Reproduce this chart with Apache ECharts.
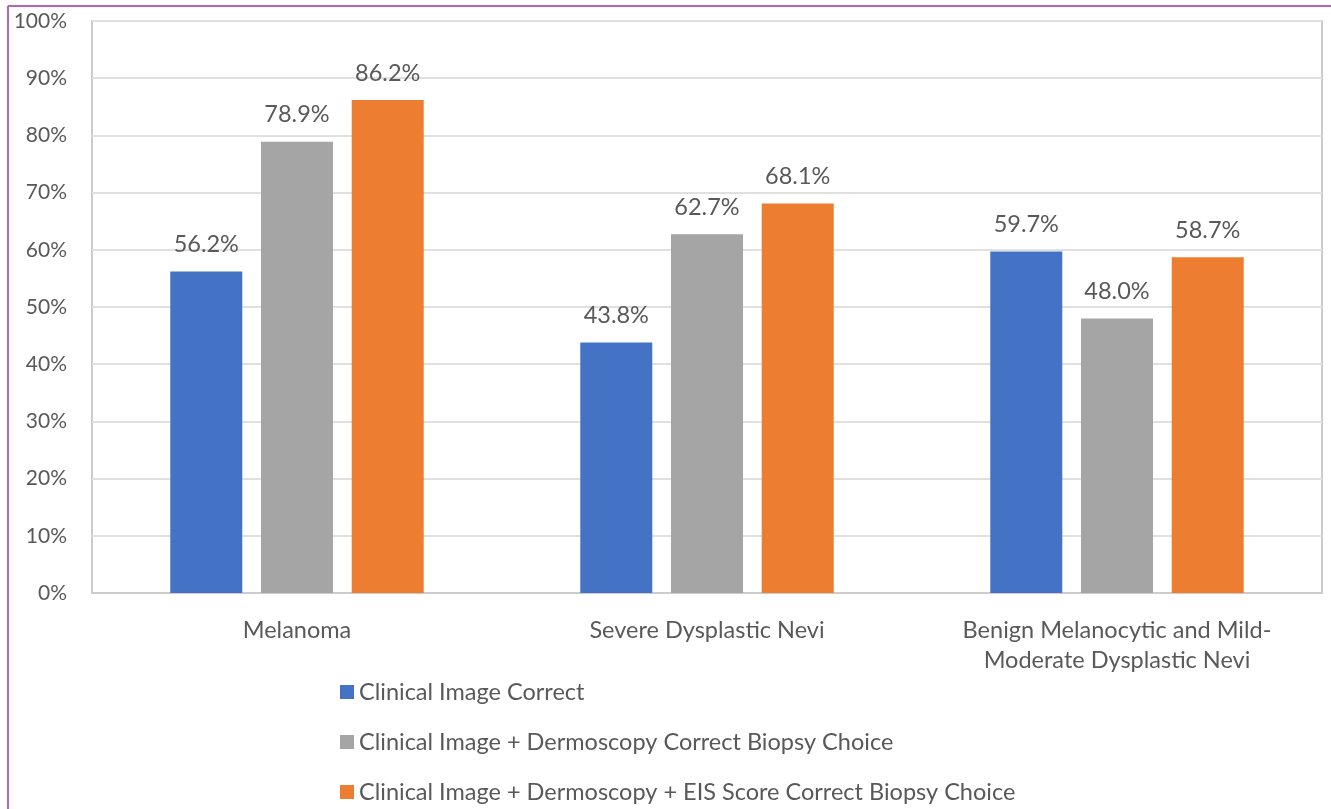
<!DOCTYPE html>
<html>
<head>
<meta charset="utf-8">
<script src="https://cdn.jsdelivr.net/npm/echarts@6/dist/echarts.min.js"></script>
<style>
  html, body { margin: 0; padding: 0; background: #fff; }
  #main { width: 1331px; height: 809px; }
</style>
</head>
<body>
<div id="main"></div>
<script>
// categories and series (percent)
var categories = ['Melanoma', 'Severe Dysplastic Nevi', 'Benign Melanocytic and Mild-\nModerate Dysplastic Nevi'];
var clinical = [56.2, 43.8, 59.7];
var dermoscopy = [78.9, 62.7, 48.0];
var eisScore = [86.2, 68.1, 58.7];
var seriesNames = [
    'Clinical Image Correct',
    'Clinical Image + Dermoscopy Correct Biopsy Choice',
    'Clinical Image + Dermoscopy + EIS Score Correct Biopsy Choice'
];
var colors = ['#4472c4', '#a5a5a5', '#ed7d31'];

var font = 'Lato, "Open Sans", sans-serif';
var textColor = '#595959';
var textSize = 23.5;

var myChart = echarts.init(document.getElementById('main'));

function makeSeries(name, data) {
    return {
        name: name,
        type: 'bar',
        data: data,
        barWidth: 72,
        barGap: '26%',
        label: {
            show: true,
            position: 'top',
            distance: 15,
            color: textColor,
            fontFamily: font,
            fontSize: textSize,
            formatter: function (p) { return p.value.toFixed(1) + '%'; }
        }
    };
}

var option = {
    color: colors,
    animation: false,
    grid: {
        left: 92, right: 9, top: 21, bottom: 216,
        show: true,
        borderColor: '#cccccc',
        borderWidth: 2
    },
    legend: {
        orient: 'vertical',
        left: 340, top: 678,
        height: 131,
        padding: 0,
        itemWidth: 14, itemHeight: 14,
        itemGap: 22,
        icon: 'rect',
        textStyle: { color: textColor, fontFamily: font, fontSize: textSize, lineHeight: 28 }
    },
    xAxis: {
        type: 'category',
        data: categories,
        axisLine: { show: true, lineStyle: { color: '#cccccc', width: 2 } },
        axisTick: { show: false },
        axisLabel: {
            color: textColor, fontFamily: font, fontSize: textSize,
            margin: 22, lineHeight: 30
        }
    },
    yAxis: {
        type: 'value',
        min: 0, max: 100, interval: 10,
        axisLine: { show: false },
        axisTick: { show: false },
        splitLine: { lineStyle: { color: '#e0e0e0', width: 2 } },
        axisLabel: {
            color: textColor, fontFamily: font, fontSize: 21,
            margin: 25,
            formatter: '{value}%'
        }
    },
    graphic: [
        { type: 'line', shape: { x1: 8, y1: 6, x2: 1331, y2: 6 }, style: { stroke: '#b462c0', lineWidth: 2 } },
        { type: 'line', shape: { x1: 8, y1: 6, x2: 8, y2: 809 }, style: { stroke: '#b462c0', lineWidth: 2 } }
    ],
    series: [
        makeSeries(seriesNames[0], clinical),
        makeSeries(seriesNames[1], dermoscopy),
        makeSeries(seriesNames[2], eisScore)
    ]
};

myChart.setOption(option);
</script>
</body>
</html>
